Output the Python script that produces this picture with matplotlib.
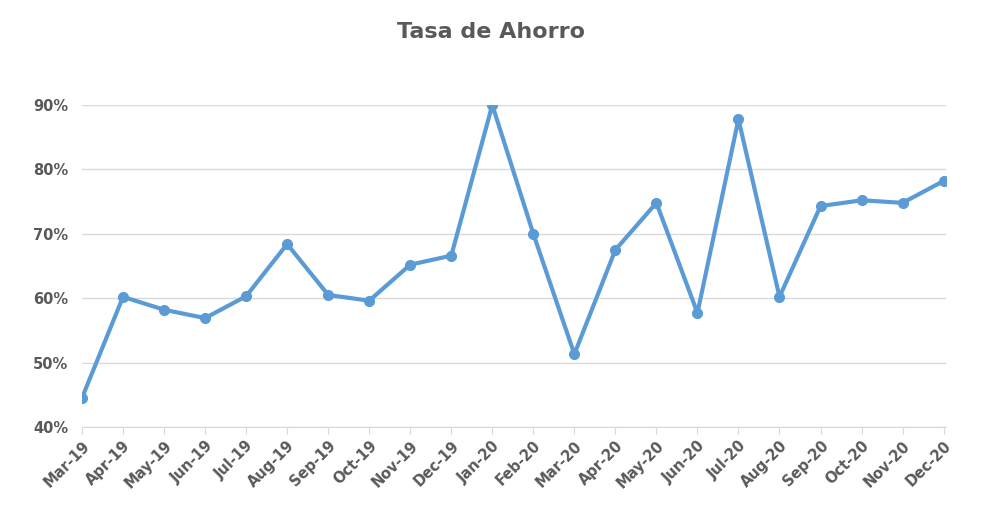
import matplotlib
matplotlib.use("Agg")
import matplotlib.pyplot as plt
from matplotlib.ticker import PercentFormatter

months = ["Mar-19","Apr-19","May-19","Jun-19","Jul-19","Aug-19","Sep-19","Oct-19","Nov-19","Dec-19",
          "Jan-20","Feb-20","Mar-20","Apr-20","May-20","Jun-20","Jul-20","Aug-20","Sep-20","Oct-20","Nov-20","Dec-20"]
savings_rate = [44.5,60.2,58.2,56.9,60.3,68.4,60.5,59.6,65.2,66.6,
                90.0,70.0,51.3,67.5,74.8,57.7,87.8,60.2,74.3,75.2,74.8,78.2]
yticks = [40,50,60,70,80,90]

fig = plt.figure(figsize=(9.82,5.29), dpi=100)
ax = fig.add_axes([0.0835,0.193,0.8795,0.6085])
x = list(range(len(months)))
ax.plot(x, savings_rate, color="#5B9BD5", lw=3, marker="o", ms=7, zorder=3)
ax.set_ylim(40,90)
ax.set_xlim(0,len(months)-1+0.05)
ax.set_yticks(yticks)
ax.yaxis.set_major_formatter(PercentFormatter(decimals=0))
ax.grid(axis="y", color="#D9D9D9", lw=1)
ax.set_xticks(x)
ax.set_xticklabels(months, rotation=45, ha="right", rotation_mode="anchor")
for lab in ax.get_xticklabels()+ax.get_yticklabels():
    lab.set_fontweight("bold"); lab.set_color("#595959"); lab.set_fontsize(10.5)
for s in ["top","right","left"]:
    ax.spines[s].set_visible(False)
ax.spines["bottom"].set_color("#D9D9D9")
ax.tick_params(axis="y", length=0, pad=10)
ax.tick_params(axis="x", color="#D9D9D9", length=5, pad=3)
fig.text(0.5,0.94,"Tasa de Ahorro", ha="center", va="center", fontsize=16, fontweight="bold", color="#595959")
fig.savefig("out.png", dpi=100)
